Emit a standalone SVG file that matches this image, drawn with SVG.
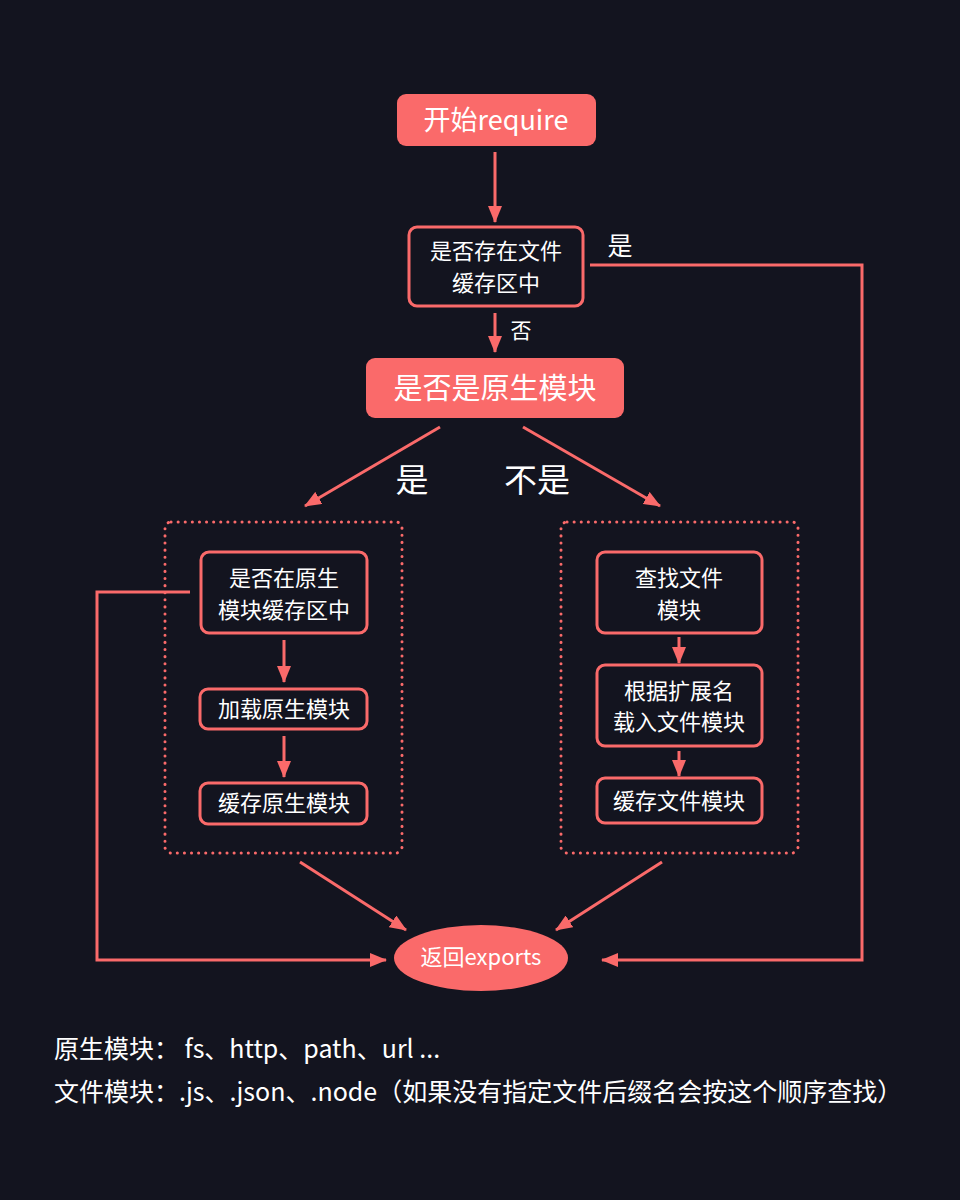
<svg xmlns="http://www.w3.org/2000/svg" width="960" height="1200" viewBox="0 0 960 1200">
<defs>
<marker id="ah" viewBox="0 0 17 14" refX="16" refY="7" markerWidth="17" markerHeight="14" markerUnits="userSpaceOnUse" orient="auto">
<path d="M0,0 L17,7 L0,14 Z" fill="#fa6a6a"/>
</marker>
<style>
.t{font-family:"Noto Sans CJK SC","Noto Sans",sans-serif;fill:#ffffff;text-anchor:middle;dominant-baseline:central}
.box{fill:#13141f;stroke:#fa6a6a;stroke-width:3}
.fill{fill:#fa6a6a}
.dot{fill:none;stroke:#fa6a6a;stroke-width:3;stroke-dasharray:0.1 7;stroke-linecap:round}
.ar{fill:none;stroke:#fa6a6a;stroke-width:3;marker-end:url(#ah)}
.ft{font-family:"Noto Sans CJK SC","Noto Sans",sans-serif;fill:#ffffff;font-size:25px}
</style>
</defs>
<rect width="960" height="1200" fill="#13141f"/>

<g id="connectors">
<line class="ar" x1="495" y1="152" x2="495" y2="222"/>
<line class="ar" x1="495" y1="313" x2="495" y2="352"/>
<polyline class="ar" points="590,265 862,265 862,960 602,960"/>
<line class="ar" x1="440" y1="427" x2="305" y2="506"/>
<line class="ar" x1="523" y1="427" x2="660" y2="506"/>
<line class="ar" x1="284" y1="640" x2="284" y2="682"/>
<line class="ar" x1="284" y1="736" x2="284" y2="777"/>
<line class="ar" x1="679" y1="637" x2="679" y2="663"/>
<line class="ar" x1="679" y1="751" x2="679" y2="776"/>
<polyline class="ar" points="190,592 97,592 97,960 386,960"/>
<line class="ar" x1="300" y1="862" x2="406" y2="930"/>
<line class="ar" x1="662" y1="862" x2="556" y2="930"/>
<text class="t" x="620" y="244" font-size="25">是</text>
<text class="t" x="521" y="329" font-size="21">否</text>
<text class="t" x="412" y="478" font-size="33">是</text>
<text class="t" x="537" y="478" font-size="33">不是</text>
</g>

<g id="start">
<rect class="fill" x="397" y="94" width="199" height="52" rx="9"/>
<text class="t" x="496" y="118" font-size="27">开始require</text>
</g>

<g id="fileCache">
<rect class="box" x="409" y="227" width="174" height="79" rx="8"/>
<text class="t" x="496" y="249" font-size="22">是否存在文件</text>
<text class="t" x="496" y="281" font-size="22">缓存区中</text>
</g>

<g id="isNative">
<rect class="fill" x="366" y="358" width="258" height="60" rx="9"/>
<text class="t" x="495" y="386" font-size="29">是否是原生模块</text>
</g>

<g id="nativeGroup">
<rect class="dot" x="165" y="522" width="237" height="331" rx="6"/>
</g>
<g id="fileGroup">
<rect class="dot" x="561" y="522" width="237" height="331" rx="6"/>
</g>

<g id="nativeCache">
<rect class="box" x="201" y="552" width="166" height="81" rx="8"/>
<text class="t" x="284" y="576" font-size="22">是否在原生</text>
<text class="t" x="284" y="608" font-size="22">模块缓存区中</text>
</g>
<g id="loadNative">
<rect class="box" x="200" y="689" width="167" height="40" rx="8"/>
<text class="t" x="284" y="707" font-size="22">加载原生模块</text>
</g>
<g id="cacheNative">
<rect class="box" x="200" y="783" width="167" height="41" rx="8"/>
<text class="t" x="284" y="801" font-size="22">缓存原生模块</text>
</g>

<g id="findFile">
<rect class="box" x="597" y="552" width="165" height="81" rx="8"/>
<text class="t" x="679" y="576" font-size="22">查找文件</text>
<text class="t" x="679" y="608" font-size="22">模块</text>
</g>
<g id="loadFile">
<rect class="box" x="597" y="665" width="165" height="81" rx="8"/>
<text class="t" x="679" y="689" font-size="22">根据扩展名</text>
<text class="t" x="679" y="720" font-size="22">载入文件模块</text>
</g>
<g id="cacheFile">
<rect class="box" x="597" y="778" width="165" height="45" rx="8"/>
<text class="t" x="679" y="799" font-size="22">缓存文件模块</text>
</g>

<g id="returnExports">
<ellipse class="fill" cx="481" cy="958" rx="87" ry="33"/>
<text class="t" x="481" y="955" font-size="22">返回exports</text>
</g>

<g id="notes">
<text class="ft" x="54" y="1058">原生模块： fs、http、path、url ...</text>
<text class="ft" x="54" y="1101">文件模块：.js、.json、.node（如果没有指定文件后缀名会按这个顺序查找）</text>
</g>
</svg>
